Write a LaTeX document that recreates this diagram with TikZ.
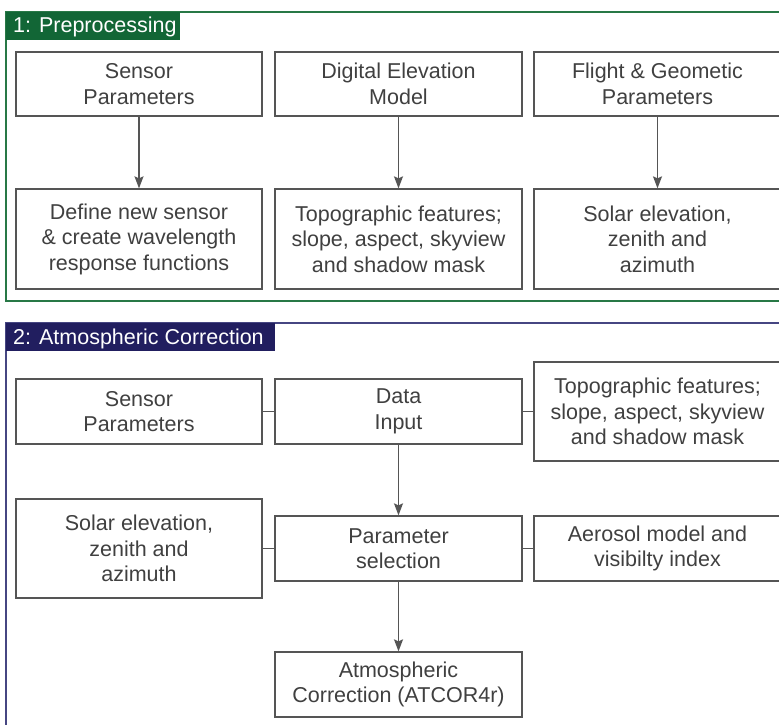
\documentclass[tikz,border=0pt]{standalone}
\usepackage{fontspec}
\setmainfont{Liberation Sans}
\usetikzlibrary{arrows.meta}
\definecolor{gtab}{RGB}{18,102,54}
\definecolor{gline}{RGB}{40,120,70}
\definecolor{btab}{RGB}{33,30,95}
\definecolor{bline}{RGB}{70,70,130}
\definecolor{boxline}{RGB}{85,85,85}
\definecolor{boxtext}{RGB}{64,64,64}
\begin{document}
\begin{tikzpicture}[x=1pt,y=-1pt,
  box/.style={draw=boxline,line width=1.3pt,fill=white,text=boxtext,align=center,
    inner sep=0pt,minimum width=246pt,
    font=\fontsize{21.5}{25.5}\selectfont},
  link/.style={draw=boxline,line width=1.3pt},
  arr/.style={link,-{Stealth[length=12pt,width=9pt,inset=2pt]}},
  tabtext/.style={text=white,anchor=base west,inner sep=0pt,font=\fontsize{21.5}{25}\selectfont}]
\useasboundingbox (0,0) rectangle (779,725);
\clip (0,0) rectangle (779,725);
\fill[white] (0,0) rectangle (779,725);
% frames
\draw[gline,line width=1.8pt] (6,12) rectangle (800,301);
\draw[bline,line width=1.8pt] (6,323) rectangle (800,760);
\fill[gtab] (6,12) rectangle (180,40);
\node[tabtext] (t1) at (13,33) {1: Preprocessing};
\fill[btab] (6,323) rectangle (275,351);
\node[tabtext] (t2) at (13,344) {2: Atmospheric Correction};
% preprocessing
\node[box,minimum height=64pt] (s1) at (139,84) {Sensor\\Parameters};
\node[box,minimum height=64pt,minimum width=247pt] (dem) at (398.5,84) {Digital Elevation\\Model};
\node[box,minimum height=64pt,minimum width=247pt] (fl) at (657.5,84) {Flight \& Geometic\\Parameters};
\node[box,minimum height=100pt] (def) at (139,239) {Define new sensor\\\& create wavelength\\response functions};
\node[box,minimum height=100pt,minimum width=247pt] (topo1) at (398.5,239) {Topographic features;\\slope, aspect, skyview\\and shadow mask};
\node[box,minimum height=100pt,minimum width=247pt] (sol1) at (657.5,239) {Solar elevation,\\zenith and\\azimuth};
\draw[arr] (s1) -- (def);
\draw[arr] (dem) -- (topo1);
\draw[arr] (fl) -- (sol1);
% atmospheric correction
\node[box,minimum height=65pt] (s2) at (139,411.5) {Sensor\\Parameters};
\node[box,minimum height=65pt,minimum width=247pt] (data) at (398.5,411.5) {Data\\Input};
\node[box,minimum height=99pt,minimum width=247pt] (topo2) at (657.5,411.5) {Topographic features;\\slope, aspect, skyview\\and shadow mask};
\node[box,minimum height=99pt] (sol2) at (139,548.5) {Solar elevation,\\zenith and\\azimuth};
\node[box,minimum height=65pt,minimum width=247pt] (param) at (398.5,548.5) {Parameter\\selection};
\node[box,minimum height=65pt,minimum width=247pt] (aer) at (657.5,548.5) {Aerosol model and\\visibilty index};
\node[box,minimum height=65pt,minimum width=247pt] (atc) at (398.5,684.5) {Atmospheric\\Correction (ATCOR4r)};
\draw[link] (s2) -- (data);
\draw[link] (data) -- (topo2);
\draw[link] (sol2) -- (param);
\draw[link] (param) -- (aer);
\draw[arr] (data) -- (param);
\draw[arr] (param) -- (atc);
\end{tikzpicture}
\end{document}
